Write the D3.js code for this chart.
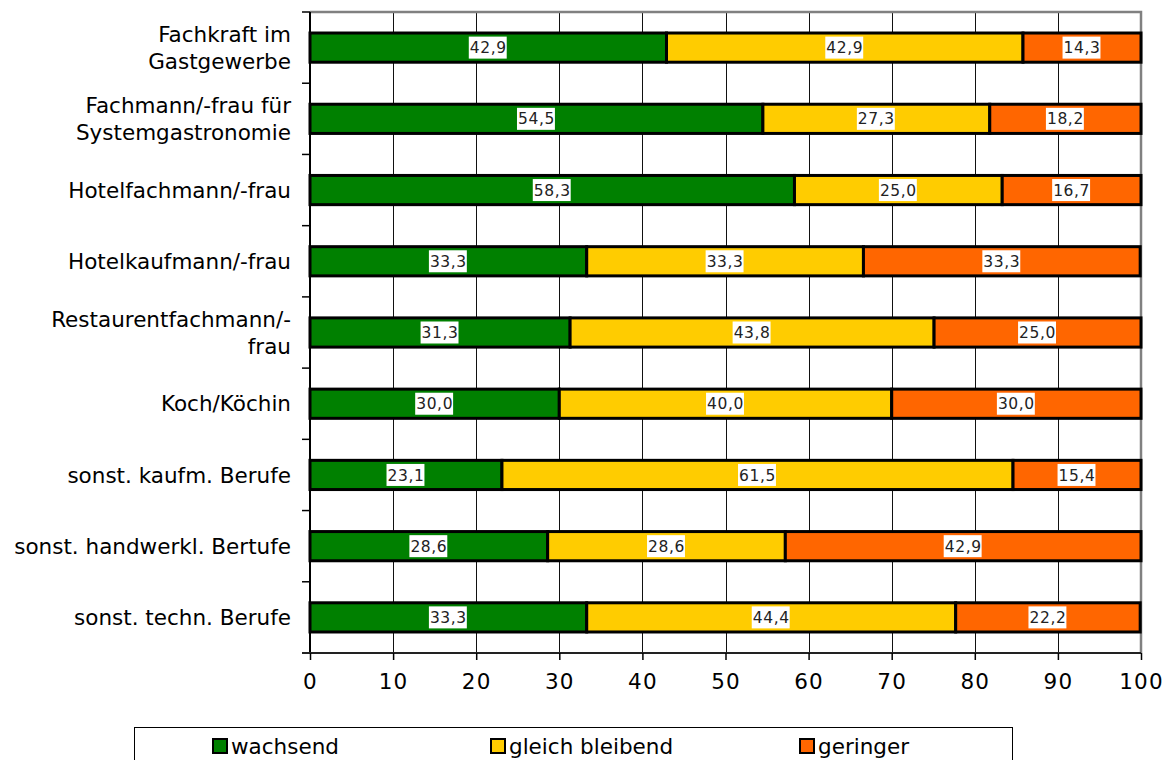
<!DOCTYPE html>
<html>
<head>
<meta charset="utf-8">
<script src="https://cdn.jsdelivr.net/npm/d3@7"></script>
<style>
  html, body { margin: 0; padding: 0; background: #fff; }
  svg { display: block; font-family: "DejaVu Sans", Verdana, sans-serif; }
</style>
</head>
<body>
<svg id="chart" width="1163" height="760"></svg>
<script>
// Occupations (each entry split into its printed lines)
const categories = [
  ["Fachkraft im", "Gastgewerbe"],
  ["Fachmann/-frau für", "Systemgastronomie"],
  ["Hotelfachmann/-frau"],
  ["Hotelkaufmann/-frau"],
  ["Restaurentfachmann/-", "frau"],
  ["Koch/Köchin"],
  ["sonst. kaufm. Berufe"],
  ["sonst. handwerkl. Bertufe"],
  ["sonst. techn. Berufe"]
];
const seriesNames = ["wachsend", "gleich bleibend", "geringer"];
const wachsend       = [42.9, 54.5, 58.3, 33.3, 31.3, 30.0, 23.1, 28.6, 33.3];
const gleichBleibend = [42.9, 27.3, 25.0, 33.3, 43.8, 40.0, 61.5, 28.6, 44.4];
const geringer       = [14.3, 18.2, 16.7, 33.3, 25.0, 30.0, 15.4, 42.9, 22.2];
const xTicks = [0, 10, 20, 30, 40, 50, 60, 70, 80, 90, 100];

const colors = ["#008000", "#FFCC00", "#FF6600"];
const seriesValues = [wachsend, gleichBleibend, geringer];

const svg = d3.select("#chart");
const m = { left: 310, right: 1141, top: 12, bottom: 653 };

const x = d3.scaleLinear().domain([0, 100]).range([m.left, m.right]);
const y = d3.scaleBand().domain(d3.range(categories.length)).range([m.top, m.bottom]).paddingInner(0.59).paddingOuter(0.295);
const yOuter = d3.scaleBand().domain(d3.range(categories.length)).range([m.top, m.bottom]);

// vertical gridlines
svg.append("g").selectAll("line").data(xTicks.slice(1, -1)).join("line")
  .attr("x1", d => Math.round(x(d)) + 0.5).attr("x2", d => Math.round(x(d)) + 0.5)
  .attr("y1", m.top).attr("y2", m.bottom)
  .attr("stroke", "#111").attr("stroke-width", 1);

// plot frame (top and right)
svg.append("path")
  .attr("d", `M${m.left},${m.top}H${m.right}V${m.bottom}`)
  .attr("fill", "none").attr("stroke", "#808080").attr("stroke-width", 2.5);

// stacked segments
const rows = categories.map((c, i) => {
  let acc = 0;
  return seriesValues.map((s, k) => {
    const seg = { i, k, x0: acc, x1: acc + s[i], v: s[i] };
    acc += s[i];
    return seg;
  });
}).flat();

svg.append("g").selectAll("rect").data(rows).join("rect")
  .attr("x", d => x(d.x0))
  .attr("width", d => x(Math.min(d.x1, 100)) - x(d.x0))
  .attr("y", d => y(d.i))
  .attr("height", y.bandwidth())
  .attr("fill", d => colors[d.k])
  .attr("stroke", "#000").attr("stroke-width", 3);

// value labels on white boxes
const labels = svg.append("g").selectAll("g").data(rows).join("g")
  .attr("transform", d => `translate(${x((d.x0 + Math.min(d.x1, 100)) / 2)},${y(d.i) + y.bandwidth() / 2})`);
labels.append("text")
  .attr("text-anchor", "middle").attr("dy", "0.36em")
  .attr("font-size", 15.5).attr("letter-spacing", 0.6).attr("fill", "#222")
  .text(d => d3.format(".1f")(d.v).replace(".", ","));
labels.each(function() {
  const g = d3.select(this);
  const bb = g.select("text").node().getBBox();
  g.insert("rect", "text")
    .attr("x", bb.x - 1).attr("y", -11)
    .attr("width", bb.width + 1).attr("height", 22)
    .attr("fill", "#fff");
});

// left axis with category boundary ticks
const yAxisG = svg.append("g");
yAxisG.append("line")
  .attr("x1", m.left).attr("x2", m.left).attr("y1", m.top).attr("y2", m.bottom + 1)
  .attr("stroke", "#000").attr("stroke-width", 2);
yAxisG.selectAll("line.tick").data(d3.range(categories.length + 1)).join("line")
  .attr("class", "tick")
  .attr("x1", m.left - 8).attr("x2", m.left)
  .attr("y1", d => d < categories.length ? yOuter(d) : m.bottom)
  .attr("y2", d => d < categories.length ? yOuter(d) : m.bottom)
  .attr("stroke", "#000").attr("stroke-width", 1.5);

// category labels
const lineH = 27;
svg.append("g").selectAll("text").data(categories).join("text")
  .attr("text-anchor", "end").attr("font-size", 21.5).attr("fill", "#000")
  .each(function(lines, i) {
    const cy = yOuter(i) + yOuter.bandwidth() / 2;
    const t = d3.select(this);
    lines.forEach((ln, j) => {
      t.append("tspan")
        .attr("x", 291)
        .attr("y", cy + (j - (lines.length - 1) / 2) * lineH)
        .attr("dy", "0.36em")
        .text(ln);
    });
  });

// bottom axis
const xAxis = d3.axisBottom(x).tickValues(xTicks).tickSize(7).tickPadding(14).tickFormat(d3.format("d"));
const xAxisG = svg.append("g").attr("transform", `translate(0,${m.bottom})`).call(xAxis);
xAxisG.select(".domain").attr("stroke", "#222").attr("stroke-width", 2).attr("d", `M${m.left - 8},0H${m.right}`);
xAxisG.selectAll(".tick line").attr("stroke", "#000").attr("stroke-width", 1.5);
xAxisG.selectAll(".tick text").attr("font-size", 21.5).attr("letter-spacing", 1.2).attr("fill", "#000")
  .attr("font-family", "\"DejaVu Sans\", Verdana, sans-serif");

// legend
const legend = svg.append("g");
legend.append("rect")
  .attr("x", 134.5).attr("y", 727.5).attr("width", 878).attr("height", 45)
  .attr("fill", "#fff").attr("stroke", "#000").attr("stroke-width", 1);
const legendX = [212, 490, 799];
const items = legend.selectAll("g").data(seriesNames).join("g")
  .attr("transform", (d, i) => `translate(${legendX[i]},738)`);
items.append("rect")
  .attr("x", 1).attr("y", 1).attr("width", 14).attr("height", 14)
  .attr("fill", (d, i) => colors[i]).attr("stroke", "#000").attr("stroke-width", 2);
items.append("text")
  .attr("x", 19).attr("y", 8).attr("dy", "0.36em")
  .attr("font-size", 21.5).attr("fill", "#000")
  .text(d => d);
</script>
</body>
</html>
